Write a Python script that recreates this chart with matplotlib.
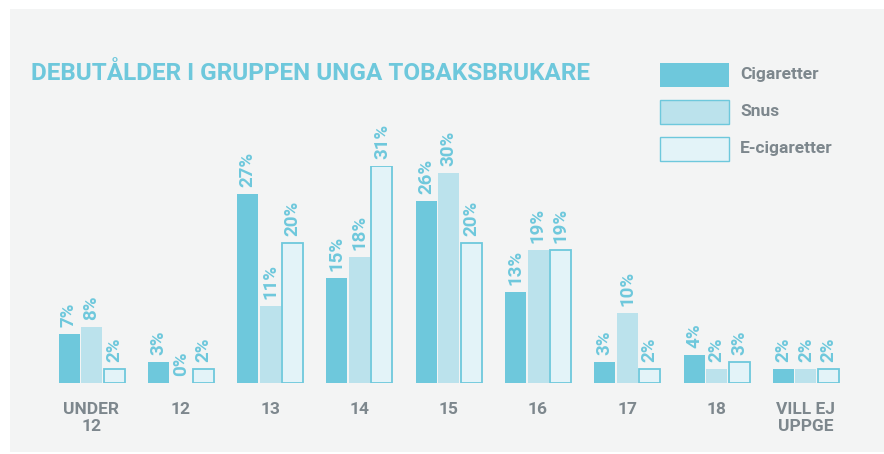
import matplotlib.pyplot as plt
import matplotlib.patches as mpatches
import numpy as np

categories = ['UNDER\n12', '12', '13', '14', '15', '16', '17', '18', 'VILL EJ\nUPPGE']
cigaretter = [7, 3, 27, 15, 26, 13, 3, 4, 2]
snus = [8, 0, 11, 18, 30, 19, 10, 2, 2]
ecig = [2, 2, 20, 31, 20, 19, 2, 3, 2]
series_names = ['Cigaretter', 'Snus', 'E-cigaretter']

c_cig = '#6ec8dc'
c_snus = '#bbe2ec'
c_ecig = '#e3f3f8'
c_text = '#7d878d'
bg = '#f3f4f4'

plt.rcParams['font.family'] = ['Roboto', 'DejaVu Sans']

fig = plt.figure(figsize=(8.84, 4.54), dpi=100)
fig.patch.set_facecolor('white')
fig.patches.append(mpatches.Rectangle((10 / 884, 2 / 454), 874 / 884, 443 / 454,
                                      transform=fig.transFigure, facecolor=bg,
                                      edgecolor='none', zorder=-5))

# bar area: baseline at y=383px, 31% reaches y=165px
ax = fig.add_axes([(91.5 - 0.5 * 89.3) / 884, 71 / 454, 9 * 89.3 / 884, 217 / 454])
ax.set_xlim(-0.5, 8.5)
ax.set_ylim(0, 31)
ax.patch.set_alpha(0)
ax.axis('off')

x = np.arange(len(categories))
w = 21 / 89.3
off = 22.5 / 89.3
b1 = ax.bar(x - off, cigaretter, w, color=c_cig, linewidth=0)
b2 = ax.bar(x, snus, w, color=c_snus, linewidth=0)
b3 = ax.bar(x + off, ecig, w, color=c_ecig, edgecolor=c_cig, linewidth=1.3)

for bars, vals in [(b1, cigaretter), (b2, snus), (b3, ecig)]:
    for rect, v in zip(bars, vals):
        ax.annotate(f'{v}%', (rect.get_x() + rect.get_width() / 2, v),
                    xytext=(0, 5), textcoords='offset points', rotation=90,
                    ha='center', va='bottom', color=c_cig, fontsize=13.5,
                    fontweight='bold', annotation_clip=False)

for i, lab in enumerate(categories):
    ax.annotate(lab, (i, 0), xytext=(0, -14), textcoords='offset points',
                ha='center', va='top', color=c_text, fontsize=12.5,
                fontweight='bold', linespacing=1.15, annotation_clip=False)

fig.text(31 / 884, 1 - 74 / 454, 'DEBUTÅLDER I GRUPPEN UNGA TOBAKSBRUKARE',
         color=c_cig, fontsize=17.5, fontweight='bold', va='center',
         family=['Roboto', 'DejaVu Sans'])

# legend
for j, (name, fc) in enumerate(zip(series_names, [c_cig, c_snus, c_ecig])):
    y = 1 - (75 + 37 * j) / 454
    ec = 'none' if j == 0 else c_cig
    fig.patches.append(mpatches.Rectangle((660 / 884, y - 12 / 454), 69 / 884, 24 / 454,
                                          transform=fig.transFigure, facecolor=fc,
                                          edgecolor=ec, linewidth=1.0, zorder=2))
    fig.text(740 / 884, y, name, color=c_text, fontsize=12.5, fontweight='bold', va='center')

fig.savefig('out.png', dpi=100, facecolor='white')
